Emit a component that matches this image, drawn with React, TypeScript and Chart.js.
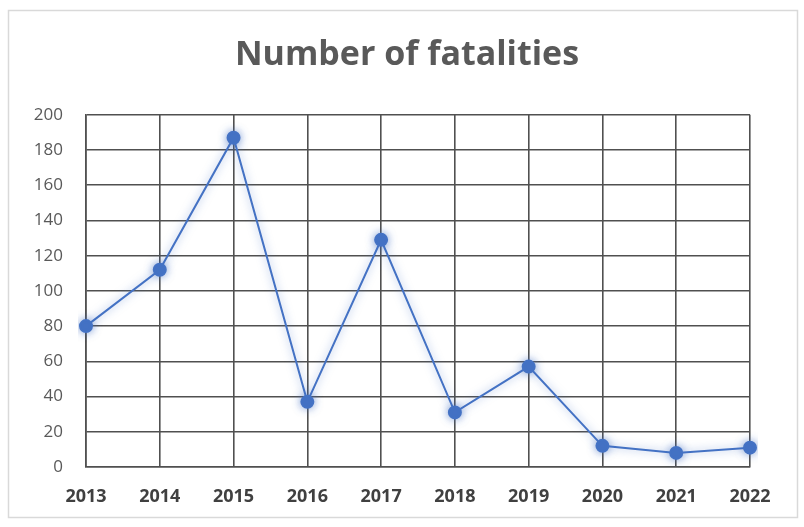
import React, { useEffect, useRef } from "react";
import { Chart, registerables } from "chart.js";

Chart.register(...registerables);

const years = ["2013", "2014", "2015", "2016", "2017", "2018", "2019", "2020", "2021", "2022"];
const fatalities = [80, 112, 187, 37, 129, 31, 57, 12, 8, 11];
const yTicks = [0, 20, 40, 60, 80, 100, 120, 140, 160, 180, 200];
const chartTitle = "Number of fatalities";

const frame = {
  id: "frame",
  beforeDraw(chart: any) {
    const ctx = chart.ctx;
    ctx.save();
    ctx.fillStyle = "#ffffff";
    ctx.fillRect(0, 0, chart.width, chart.height);
    ctx.strokeStyle = "#d9d9d9";
    ctx.lineWidth = 1.5;
    ctx.strokeRect(8.5, 10.5, 789, 507);
    ctx.restore();
  },
  beforeDatasetsDraw(chart: any) {
    const ctx = chart.ctx;
    ctx.save();
    ctx.shadowColor = "rgba(68,114,196,0.6)";
    ctx.shadowBlur = 8;
  },
  afterDatasetsDraw(chart: any) {
    chart.ctx.restore();
  },
};

export default function App() {
  const ref = useRef<HTMLCanvasElement | null>(null);
  useEffect(() => {
    document.body.style.margin = "0";
    const chart = new Chart(ref.current as HTMLCanvasElement, {
      type: "line",
      data: {
        labels: years,
        datasets: [
          {
            data: fatalities,
            borderColor: "#4472C4",
            backgroundColor: "#4472C4",
            borderWidth: 2,
            pointRadius: 6,
            pointBackgroundColor: "#4472C4",
            pointBorderColor: "#4472C4",
            tension: 0,
          },
        ],
      },
      options: {
        animation: false,
        responsive: true,
        maintainAspectRatio: false,
        layout: { padding: { left: 10, right: 0, top: 0, bottom: 0 } },
        plugins: {
          legend: { display: false },
          tooltip: { enabled: false },
          title: {
            display: true,
            text: chartTitle,
            color: "#595959",
            font: { family: "Open Sans", size: 34, weight: "bold", lineHeight: 1.2 },
            padding: { top: 35, bottom: 39 },
          },
        },
        scales: {
          x: {
            offset: false,
            grid: { color: "#505050", lineWidth: 1.6, drawTicks: false },
            border: { color: "#505050", width: 1.6 },
            ticks: {
              color: "#404040",
              font: { family: "Open Sans", size: 18, weight: "bold" },
              padding: 19,
              maxRotation: 0,
            },
            afterFit(scale: any) {
              scale.height = 60;
            },
          },
          y: {
            min: 0,
            max: 200,
            afterBuildTicks(scale: any) {
              scale.ticks = yTicks.map((v) => ({ value: v }));
            },
            grid: { color: "#505050", lineWidth: 1.6, drawTicks: false },
            border: { color: "#505050", width: 1.6 },
            ticks: {
              color: "#595959",
              font: { family: "Open Sans", size: 17 },
              padding: 23,
            },
            afterFit(scale: any) {
              scale.width = 76;
            },
          },
          spacer: {
            type: "linear",
            position: "right",
            display: true,
            grid: { display: false, drawTicks: false },
            border: { display: false },
            ticks: { display: false },
            afterFit(scale: any) {
              scale.width = 54;
            },
          },
        },
      },
      plugins: [frame],
    });
    return () => chart.destroy();
  }, []);
  return (
    <div style={{ width: 804, height: 527, position: "relative" }}>
      <canvas ref={ref} />
    </div>
  );
}
